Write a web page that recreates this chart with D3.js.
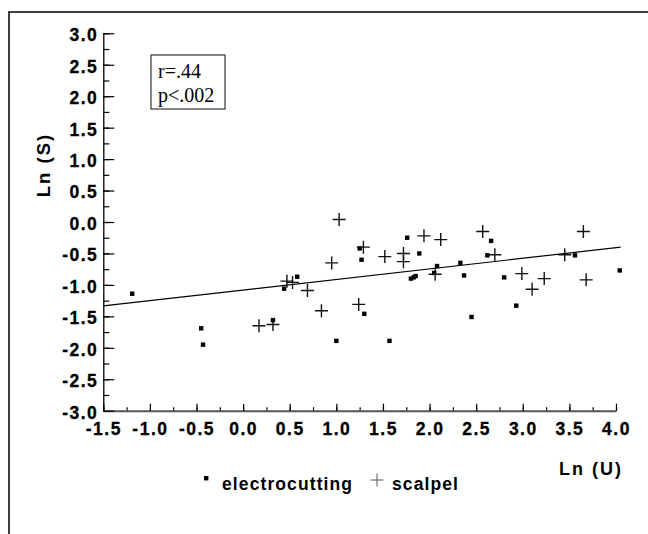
<!DOCTYPE html>
<html>
<head>
<meta charset="utf-8">
<script src="https://cdn.jsdelivr.net/npm/d3@7"></script>
<style>
  body { margin: 0; background: #fff; }
  svg { display: block; }
  .lbl { font-family: "Liberation Sans", Arial, sans-serif; font-weight: bold; fill: #000; }
  .note { font-family: "Liberation Serif", "Times New Roman", serif; font-size: 20px; fill: #000; }
</style>
</head>
<body>
<svg width="648" height="534"></svg>
<script>
// data
const electrocuttingX = [-1.19, -0.45, -0.43, 0.32, 0.44, 0.58, 1.00, 1.25, 1.27, 1.30, 1.57, 1.76, 1.89, 1.80, 1.83, 1.85, 2.05, 2.08, 2.33, 2.37, 2.45, 2.62, 2.66, 2.80, 2.93, 3.56, 4.04];
const electrocuttingY = [-1.14, -1.69, -1.95, -1.56, -1.06, -0.87, -1.89, -0.42, -0.60, -1.46, -1.89, -0.25, -0.50, -0.90, -0.88, -0.86, -0.81, -0.70, -0.65, -0.85, -1.51, -0.53, -0.30, -0.88, -1.33, -0.53, -0.77];

const scalpelX = [0.17, 0.32, 0.47, 0.53, 0.69, 0.84, 0.95, 1.03, 1.24, 1.29, 1.52, 1.72, 1.72, 1.94, 2.06, 2.12, 2.57, 2.70, 2.99, 3.10, 3.23, 3.45, 3.65, 3.68];
const scalpelY = [-1.65, -1.63, -0.94, -0.96, -1.09, -1.41, -0.65, 0.04, -1.31, -0.40, -0.55, -0.50, -0.63, -0.22, -0.83, -0.28, -0.15, -0.52, -0.82, -1.07, -0.90, -0.52, -0.15, -0.92];

const fitX = [-1.5, 4.05];
const fitY = [-1.335, -0.40];

const xTicks = [-1.5, -1.0, -0.5, 0.0, 0.5, 1.0, 1.5, 2.0, 2.5, 3.0, 3.5, 4.0];
const yTicks = [-3.0, -2.5, -2.0, -1.5, -1.0, -0.5, 0.0, 0.5, 1.0, 1.5, 2.0, 2.5, 3.0];
const noteLines = ["r=.44", "p<.002"];

const svg = d3.select("svg");

// frame lines at top and left
svg.append("path")
  .attr("d", "M9,534 V12 H648")
  .attr("fill", "none")
  .attr("stroke", "#000")
  .attr("stroke-width", 1.5);

const xScale = d3.scaleLinear().domain([-1.5, 4.0]).range([103.3, 616]);
const yScale = d3.scaleLinear().domain([-3, 3]).range([410.7, 33.3]);

const xMinor = d3.range(-1.5, 4.001, 0.25);
const yMinor = d3.range(-3, 3.001, 0.25);
const fmt = (d) => d.toFixed(1); // plain hyphen minus like the original

// minor ticks
svg.append("g")
  .attr("transform", "translate(0,410.7)")
  .call(d3.axisBottom(xScale).tickValues(xMinor).tickSize(-3.5).tickFormat(""))
  .call((g) => g.select(".domain").remove());
svg.append("g")
  .attr("transform", "translate(103.3,0)")
  .call(d3.axisLeft(yScale).tickValues(yMinor).tickSize(-6).tickFormat(""))
  .call((g) => g.select(".domain").remove());

// major ticks + labels
const xAxis = svg.append("g")
  .attr("transform", "translate(0,410.7)")
  .call(d3.axisBottom(xScale).tickValues(xTicks).tickSize(-7).tickSizeOuter(0).tickPadding(12).tickFormat(fmt));
xAxis.select(".domain").attr("stroke", "#555").attr("stroke-width", 2);

const yAxis = svg.append("g")
  .attr("transform", "translate(103.3,0)")
  .call(d3.axisLeft(yScale).tickValues(yTicks).tickSize(-11).tickSizeOuter(0).tickPadding(5).tickFormat(fmt));
yAxis.select(".domain").attr("stroke", "#000").attr("stroke-width", 1.3);
yAxis.selectAll(".tick text").attr("dy", "0.42em");

[xAxis, yAxis].forEach((g) => {
  g.attr("font-family", "Liberation Sans, Arial, sans-serif")
    .attr("font-size", 17.5)
    .attr("font-weight", "bold");
  g.selectAll(".tick text")
    .style("font-size", "17.5px")
    .style("font-weight", "bold")
    .style("letter-spacing", "1.5px")
    .attr("fill", "#000")
    .attr("stroke", "#000")
    .attr("stroke-width", 0.3);
});

svg.selectAll(".tick line").attr("stroke", "#000").attr("stroke-width", 1.2);

// regression line
const line = d3.line().x((d) => xScale(d[0])).y((d) => yScale(d[1]));
svg.append("path")
  .datum(d3.zip(fitX, fitY))
  .attr("d", line)
  .attr("fill", "none")
  .attr("stroke", "#000")
  .attr("stroke-width", 1.2);

// electrocutting squares
svg.selectAll("rect.electro")
  .data(d3.zip(electrocuttingX, electrocuttingY))
  .enter()
  .append("rect")
  .attr("class", "electro")
  .attr("x", (d) => xScale(d[0]) - 2.2)
  .attr("y", (d) => yScale(d[1]) - 2.2)
  .attr("width", 4.4)
  .attr("height", 4.4)
  .attr("fill", "#000");

// scalpel crosses
const cross = (s) => `M${-s},0H${s}M0,${-s}V${s}`;
svg.selectAll("path.scalpel")
  .data(d3.zip(scalpelX, scalpelY))
  .enter()
  .append("path")
  .attr("class", "scalpel")
  .attr("transform", (d) => `translate(${xScale(d[0])},${yScale(d[1])})`)
  .attr("d", cross(6.5))
  .attr("stroke", "#111")
  .attr("stroke-width", 1.4);

// axis titles
svg.append("text")
  .attr("class", "lbl")
  .attr("transform", "translate(50,165) rotate(-90)")
  .attr("text-anchor", "middle")
  .attr("font-size", 18.5)
  .attr("letter-spacing", "2px")
  .text("Ln (S)");

svg.append("text")
  .attr("class", "lbl")
  .attr("x", 559)
  .attr("y", 475)
  .attr("font-size", 18)
  .attr("letter-spacing", "2px")
  .text("Ln (U)");

// legend
svg.append("rect")
  .attr("x", 204)
  .attr("y", 476)
  .attr("width", 4.4)
  .attr("height", 4.4)
  .attr("fill", "#000");
svg.append("text")
  .attr("class", "lbl")
  .attr("x", 222)
  .attr("y", 490)
  .attr("font-size", 17.5)
  .attr("letter-spacing", "1.1px")
  .text("electrocutting");
svg.append("path")
  .attr("transform", "translate(377,480)")
  .attr("d", cross(6.5))
  .attr("stroke", "#555")
  .attr("stroke-width", 1);
svg.append("text")
  .attr("class", "lbl")
  .attr("x", 392)
  .attr("y", 490)
  .attr("font-size", 17.5)
  .attr("letter-spacing", "1.1px")
  .text("scalpel");

// stats box
svg.append("rect")
  .attr("x", 151)
  .attr("y", 55)
  .attr("width", 74)
  .attr("height", 54)
  .attr("fill", "#fff")
  .attr("stroke", "#333")
  .attr("stroke-width", 1.2);
svg.selectAll("text.note")
  .data(noteLines)
  .enter()
  .append("text")
  .attr("class", "note")
  .attr("x", 158)
  .attr("y", (d, i) => 78 + i * 23.5)
  .text((d) => d);
</script>
</body>
</html>
